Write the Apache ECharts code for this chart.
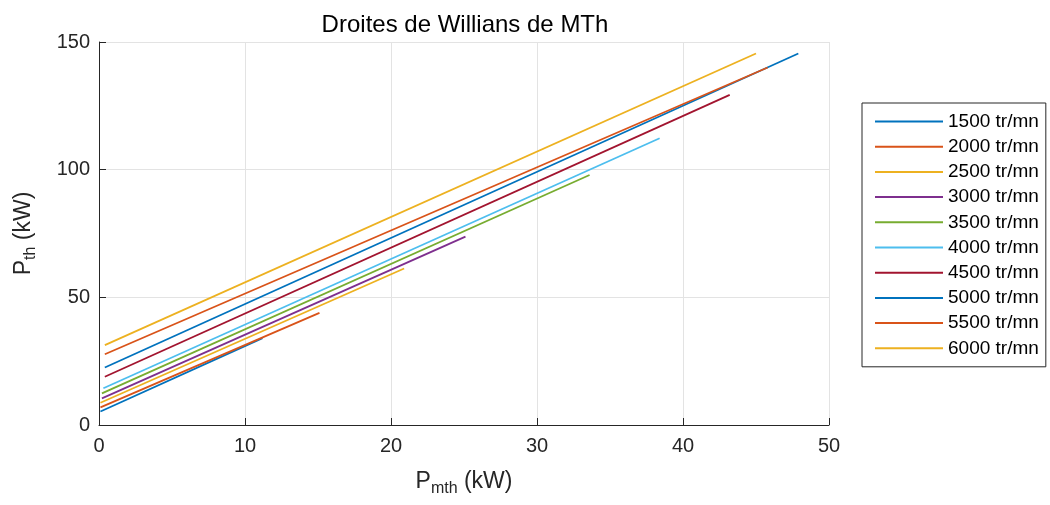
<!DOCTYPE html>
<html><head><meta charset="utf-8">
<script src="https://cdn.jsdelivr.net/npm/echarts@6/dist/echarts.min.js"></script>
<style>html,body{margin:0;padding:0;background:#fff}#c{width:1050px;height:505px}</style>
</head><body><div id="c"></div>
<script>
const seriesNames = ['1500 tr/mn','2000 tr/mn','2500 tr/mn','3000 tr/mn','3500 tr/mn','4000 tr/mn','4500 tr/mn','5000 tr/mn','5500 tr/mn','6000 tr/mn'];
const colors = ['#0072BD','#D95319','#EDB120','#7E2F8E','#77AC30','#4DBEEE','#A2142F','#0072BD','#D95319','#EDB120'];
// [Pmth, Pth] endpoints of each Willans line
const line1500 = [[0.1, 5.3], [11.2, 34.0]];
const line2000 = [[0.1, 6.9], [15.1, 43.9]];
const line2500 = [[0.1, 8.7], [20.9, 61.3]];
const line3000 = [[0.2, 10.4], [25.1, 73.8]];
const line3500 = [[0.2, 12.4], [33.6, 97.9]];
const line4000 = [[0.3, 14.4], [38.4, 112.3]];
const line4500 = [[0.4, 18.9], [43.2, 129.3]];
const line5000 = [[0.4, 22.5], [47.9, 145.5]];
const line5500 = [[0.4, 27.7], [45.8, 140.0]];
const line6000 = [[0.4, 31.3], [45.0, 145.5]];
const allLines = [line1500,line2000,line2500,line3000,line3500,line4000,line4500,line5000,line5500,line6000];
const xTicks = [0,10,20,30,40,50];
const yTicks = [0,50,100,150];

const chart = echarts.init(document.getElementById('c'));
const axisCol = '#262626';
const ff = 'Liberation Sans, Arial, sans-serif';
const nameRich = {
  a: { fontFamily: ff, fontSize: 23, color: axisCol },
  b: { fontFamily: ff, fontSize: 16, color: axisCol, verticalAlign: 'bottom', padding: [14,0,0,0] }
};
chart.setOption({
  animation: false,
  color: colors,
  title: { text: 'Droites de Willians de MTh', left: 460, textAlign: 'center', top: 8,
    textStyle: { fontFamily: ff, fontSize: 24, fontWeight: 'normal', color: '#000' } },
  grid: { left: 99, right: 221, top: 42, bottom: 80, show: false },
  legend: {
    orient: 'vertical', left: 862, top: 103,
    padding: [9, 7, 9, 13], itemGap: 6.2, itemWidth: 68, itemHeight: 2, icon: 'rect',
    borderColor: axisCol, borderWidth: 1, borderRadius: 0, backgroundColor: '#fff',
    textStyle: { fontFamily: ff, fontSize: 19, color: '#000', lineHeight: 19 },
    data: seriesNames
  },
  xAxis: {
    type: 'value', min: 0, max: 50, interval: 10,
    name: '{a|P}{b|mth}{a| (kW)}', nameLocation: 'middle', nameGap: 42,
    nameTextStyle: { rich: nameRich },
    axisLine: { onZero: false, lineStyle: { color: axisCol } },
    axisTick: { inside: true, length: 7, lineStyle: { color: axisCol } },
    axisLabel: { fontFamily: ff, fontSize: 20, color: axisCol, margin: 11 },
    splitLine: { lineStyle: { color: '#e3e3e3' } }
  },
  yAxis: {
    type: 'value', min: 0, max: 150, interval: 50,
    name: '{a|P}{b|th}{a| (kW)}', nameLocation: 'middle', nameGap: 60, nameRotate: 90,
    nameTextStyle: { rich: nameRich },
    axisLine: { onZero: false, lineStyle: { color: axisCol } },
    axisTick: { inside: true, length: 7, lineStyle: { color: axisCol } },
    axisLabel: { fontFamily: ff, fontSize: 20, color: axisCol, margin: 9 },
    splitLine: { lineStyle: { color: '#e3e3e3' } }
  },
  series: allLines.map((d, i) => ({
    name: seriesNames[i], type: 'line', data: d, showSymbol: false, symbol: 'none',
    lineStyle: { width: 1.8, color: colors[i] }, itemStyle: { color: colors[i] }
  }))
});
</script></body></html>
